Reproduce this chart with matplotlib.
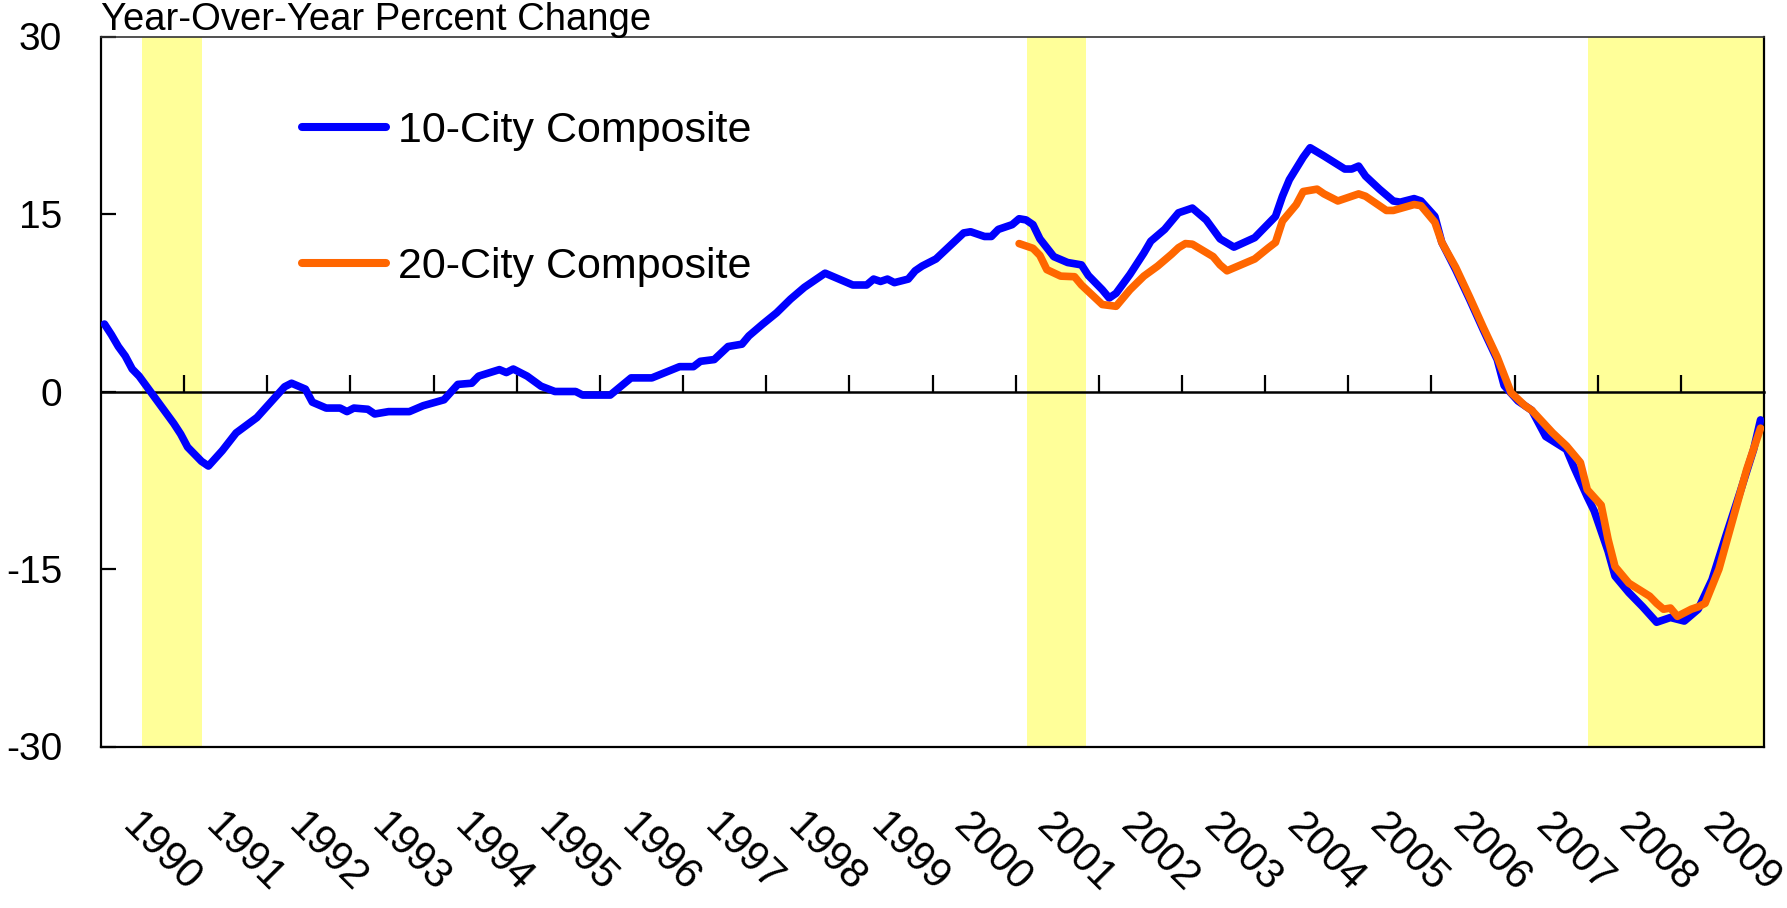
import matplotlib
matplotlib.use("Agg")
import matplotlib.pyplot as plt
from matplotlib.lines import Line2D

# ---------------- data (month index 0 = Jan 1990, 239 = Dec 2009) ----------------
years = [str(y) for y in range(1990, 2010)]

m10 = [0, 1, 2, 3, 4, 5, 6, 8, 10, 11, 12, 14, 15, 17, 19, 22, 24, 26, 27, 29,
       30, 32, 34, 35, 36, 38, 39, 41, 44, 46, 49, 51, 53, 54, 57, 58, 59, 61, 63, 65,
       68, 69, 73, 76, 79, 83, 85, 86, 88, 90, 92, 93, 95, 97, 99, 101, 103, 104, 106, 108,
       110, 111, 112, 113, 114, 116, 117, 118, 120, 122, 124, 125, 127, 128, 129, 131, 132, 133, 134, 135,
       137, 139, 141, 142, 144, 145, 146, 148, 150, 151, 153, 155, 157, 159, 161, 163, 166, 167, 169, 170,
       171, 173, 174, 176, 179, 180, 181, 182, 184, 186, 187, 189, 190, 192, 193, 195, 197, 199, 201, 202,
       204, 206, 208, 211, 212, 214, 215, 217, 218, 220, 222, 224, 226, 228, 229, 230, 232, 234, 236, 238,
       239]
v10 = [5.7, 4.8, 3.8, 3.0, 1.9, 1.3, 0.5, -1.1, -2.7, -3.6, -4.7, -5.9, -6.3, -5.0, -3.5, -2.2, -0.9, 0.4, 0.7, 0.2,
       -0.9, -1.4, -1.4, -1.7, -1.4, -1.5, -1.9, -1.7, -1.7, -1.2, -0.7, 0.6, 0.7, 1.3, 1.85, 1.6, 1.9, 1.3, 0.45, 0.0,
       0.0, -0.3, -0.3, 1.15, 1.15, 2.1, 2.1, 2.55, 2.7, 3.8, 4.0, 4.7, 5.7, 6.65, 7.8, 8.8, 9.6, 10.0, 9.5, 9.0,
       9.0, 9.5, 9.3, 9.5, 9.2, 9.5, 10.2, 10.6, 11.2, 12.3, 13.4, 13.5, 13.1, 13.1, 13.7, 14.1, 14.6, 14.5, 14.1, 12.9,
       11.4, 10.9, 10.7, 9.8, 8.6, 7.9, 8.3, 9.9, 11.7, 12.7, 13.7, 15.1, 15.5, 14.5, 12.9, 12.2, 13.0, 13.6, 14.8, 16.5,
       17.9, 19.8, 20.6, 19.9, 18.8, 18.8, 19.05, 18.2, 17.1, 16.1, 16.0, 16.3, 16.1, 14.8, 12.6, 10.3, 7.8, 5.2, 2.7, 0.5,
       -0.8, -1.6, -3.8, -4.9, -6.3, -8.9, -10.1, -13.5, -15.6, -17.0, -18.2, -19.5, -19.1, -19.4, -18.9, -18.4, -15.9, -12.2, -8.6, -4.9,
       -2.4]

m20 = [132, 134, 135, 136, 138, 140, 141, 143, 144, 146, 148, 150, 152, 154, 155, 156, 157, 160, 161, 162,
       164, 166, 168, 169, 170, 172, 173, 175, 176, 178, 181, 182, 185, 186, 189, 190, 192, 193, 195, 197,
       199, 201, 203, 205, 206, 209, 211, 213, 214, 216, 217, 218, 220, 223, 224, 225, 226, 227, 229, 230,
       231, 233, 235, 237, 239]
v20 = [12.5, 12.1, 11.5, 10.3, 9.75, 9.7, 9.0, 7.9, 7.35, 7.2, 8.6, 9.75, 10.6, 11.6, 12.15, 12.5, 12.45, 11.4, 10.7, 10.2,
       10.7, 11.2, 12.15, 12.6, 14.4, 15.8, 16.9, 17.1, 16.7, 16.1, 16.7, 16.5, 15.3, 15.3, 15.8, 15.7, 14.3, 12.6, 10.5, 8.0,
       5.4, 2.9, -0.1, -1.2, -1.6, -3.5, -4.6, -6.0, -8.3, -9.6, -12.5, -14.8, -16.2, -17.3, -17.9, -18.4, -18.3, -19.0, -18.4, -18.2,
       -17.9, -15.0, -10.8, -6.6, -3.1]

rec_start = [5.4, 133.1, 214.1]
rec_end = [14.1, 141.6, 239.5]

yticks = [30, 15, 0, -15, -30]
labels = ["10-City Composite", "20-City Composite"]
title = "Year-Over-Year Percent Change"

# ---------------- figure ----------------
W, H = 1787, 908
fig = plt.figure(figsize=(W / 100, H / 100), dpi=100)
L, R, T, B = 101, 1764, 36.5, 746.5
ax = fig.add_axes([L / W, 1 - B / H, (R - L) / W, (B - T) / H])

BLUE = "#0000FF"
ORANGE = "#FF6600"
YEL = "#FFFF99"
SANS = ["Liberation Sans", "DejaVu Sans"]

for s, e in zip(rec_start, rec_end):
    ax.axvspan(s, e, color=YEL, lw=0, zorder=0)

ax.plot(m10, v10, color=BLUE, lw=5.5, solid_joinstyle="round", solid_capstyle="round", zorder=3)
ax.plot(m20, v20, color=ORANGE, lw=5.5, solid_joinstyle="round", solid_capstyle="round", zorder=4)

ax.set_xlim(-0.5, 239.5)
ax.set_ylim(-30, 30)

# spines
for sp in ["left", "right"]:
    ax.spines[sp].set_linewidth(1.6)
    ax.spines[sp].set_color("black")
ax.spines["top"].set_linewidth(1.2)
ax.spines["top"].set_color("#333333")
ax.spines["bottom"].set_position(("data", 0))
ax.spines["bottom"].set_linewidth(1.8)
ax.spines["bottom"].set_zorder(2)

# x ticks at year boundaries on the zero line, pointing up
ax.set_xticks([11.5 + 12 * k for k in range(len(years) - 1)])
ax.tick_params(axis="x", direction="in", length=12, width=1.6, labelbottom=False)

# y ticks
ax.set_yticks(yticks)
ax.set_yticklabels([str(v) for v in yticks], family=SANS, fontsize=28)
ax.tick_params(axis="y", direction="in", length=11, width=1.6, pad=28)

# year labels on secondary axis at the bottom
sec = ax.secondary_xaxis("bottom")
sec.spines["bottom"].set_linewidth(1.6)
sec.set_xticks([5.5 + 12 * k for k in range(len(years))], labels=years,
               rotation=-45, ha="left", va="top", rotation_mode="anchor",
               family=SANS, fontsize=30)
sec.tick_params(axis="x", length=0, pad=43)

# legend
handles = [Line2D([], [], color=BLUE, lw=5.8, solid_capstyle="round"),
           Line2D([], [], color=ORANGE, lw=5.8, solid_capstyle="round")]
ax.legend(handles, labels, loc="upper left", bbox_to_anchor=(0.1209, 0.8956),
          frameon=False, borderpad=0, borderaxespad=0, handlelength=1.95,
          handletextpad=0.28, labelspacing=2.23,
          prop={"family": SANS, "size": 31})

fig.text(L / W, 1 - 30 / H, title, ha="left", va="baseline",
         family=SANS, fontsize=27.5)

fig.savefig("out.png", dpi=100)
